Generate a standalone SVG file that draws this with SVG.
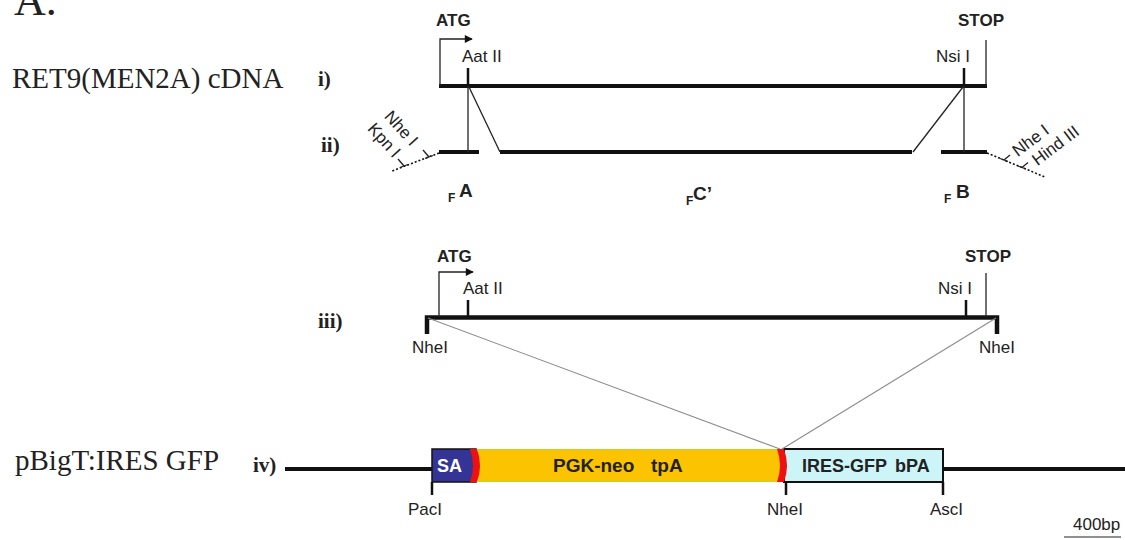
<svg xmlns="http://www.w3.org/2000/svg" width="1125" height="540" viewBox="0 0 1125 540">
  <defs>
    <marker id="arrow" viewBox="0 0 10 10" refX="9" refY="5" markerWidth="9" markerHeight="8" markerUnits="userSpaceOnUse" orient="auto">
      <path d="M0,0 L10,5 L0,10 Z" fill="#111"/>
    </marker>
    <style>
      .title { font-family: "Liberation Serif", "Times New Roman", serif; font-size: 29px; fill: #222; }
      .roman { font-family: "Liberation Serif", "Times New Roman", serif; font-size: 21px; font-weight: bold; fill: #222; }
      .lbl { font-family: "Liberation Sans", Arial, sans-serif; font-size: 17px; fill: #222; }
      .blbl { font-family: "Liberation Sans", Arial, sans-serif; font-size: 17px; font-weight: bold; fill: #222; }
      .frag { font-family: "Liberation Sans", Arial, sans-serif; font-size: 19px; font-weight: bold; fill: #222; }
      .sub { font-family: "Liberation Sans", Arial, sans-serif; font-size: 12px; font-weight: bold; fill: #222; }
      .box { font-family: "Liberation Sans", Arial, sans-serif; font-weight: bold; }
      .dna { stroke: #111; stroke-width: 4; fill: none; }
      .dna5 { stroke: #111; stroke-width: 4.5; fill: none; }
      .site { stroke: #111; stroke-width: 2.5; fill: none; }
      .thin { stroke: #222; stroke-width: 1.3; fill: none; }
      .dots { stroke: #111; stroke-width: 1.6; stroke-dasharray: 2 2; fill: none; }
      .guide { stroke: #8c8c8c; stroke-width: 1.1; fill: none; }
    </style>
  </defs>
  <rect width="1125" height="540" fill="#fff"/>

  <!-- panel letter and construct names -->
  <text x="14" y="15" style="font-family:'Liberation Serif','Times New Roman',serif;font-size:44px;fill:#222">A.</text>
  <text class="title" x="12" y="88">RET9(MEN2A) cDNA</text>
  <text class="title" x="15" y="470">pBigT:IRES GFP</text>

  <!-- i) full-length cDNA -->
  <g id="row-i">
    <text class="roman" x="318" y="86">i)</text>
    <line class="dna" x1="439" y1="86" x2="987" y2="86"/>
    <polyline class="thin" points="440,86 440,39 472,39" marker-end="url(#arrow)"/>
    <text class="blbl" x="436" y="26">ATG</text>
    <line class="site" x1="468" y1="68" x2="468" y2="86"/>
    <text class="lbl" x="462" y="62">Aat II</text>
    <line class="site" x1="964" y1="68" x2="964" y2="86"/>
    <text class="lbl" x="936" y="62">Nsi I</text>
    <line class="thin" x1="986" y1="40" x2="986" y2="86"/>
    <text class="blbl" x="958" y="26">STOP</text>
  </g>

  <!-- ii) PCR fragments A, C' and B -->
  <g id="row-ii">
    <text class="roman" x="321" y="152">ii)</text>
    <line class="dna" x1="439" y1="152" x2="479" y2="152"/>
    <line class="dna" x1="500" y1="152" x2="912" y2="152"/>
    <line class="dna" x1="941" y1="152" x2="987" y2="152"/>
    <!-- flanking primer tails with added sites -->
    <line class="dots" x1="439" y1="153" x2="392" y2="171"/>
    <line class="dots" x1="987" y1="153" x2="1045" y2="177"/>
    <polyline class="thin" points="423,150 429,157"/>
    <line class="thin" x1="425" y1="158.5" x2="433" y2="155.5"/>
    <polyline class="thin" points="398,159 404,166"/>
    <line class="thin" x1="400" y1="167.5" x2="408" y2="164.5"/>
    <text class="lbl" transform="translate(397,132) rotate(48)" text-anchor="middle">Nhe I</text>
    <text class="lbl" transform="translate(380,144) rotate(48)" text-anchor="middle">Kpn I</text>
    <polyline class="thin" points="1004,160 1010,155"/>
    <line class="thin" x1="1000" y1="158.5" x2="1008" y2="161.5"/>
    <polyline class="thin" points="1022,167.5 1028,162.5"/>
    <line class="thin" x1="1018" y1="166" x2="1026" y2="169"/>
    <text class="lbl" transform="translate(1034,145) rotate(-37)" text-anchor="middle">Nhe I</text>
    <text class="lbl" transform="translate(1059,150) rotate(-37)" text-anchor="middle">Hind III</text>
    <!-- fragment names -->
    <text class="sub" x="448" y="202">F</text>
    <text class="frag" x="459" y="197">A</text>
    <text class="sub" x="686" y="205">F</text>
    <text class="frag" x="693" y="200">C’</text>
    <text class="sub" x="944" y="203">F</text>
    <text class="frag" x="956" y="198">B</text>
  </g>

  <!-- iii) reassembled insert -->
  <g id="row-iii">
    <text class="roman" x="318" y="328">iii)</text>
    <polyline class="dna5" points="427,334 427,317.5 997,317.5 997,334"/>
    <polyline class="thin" points="439,317 439,272 473,272" marker-end="url(#arrow)"/>
    <text class="blbl" x="437" y="262">ATG</text>
    <line class="site" x1="468" y1="300" x2="468" y2="317"/>
    <text class="lbl" x="463" y="294">Aat II</text>
    <line class="site" x1="966" y1="300" x2="966" y2="317"/>
    <text class="lbl" x="938" y="294">Nsi I</text>
    <line class="thin" x1="986" y1="273" x2="986" y2="317"/>
    <text class="blbl" x="965" y="262">STOP</text>
    <text class="lbl" x="412" y="353">NheI</text>
    <text class="lbl" x="979" y="353">NheI</text>
  </g>

  <!-- iv) pBigT:IRES GFP vector -->
  <g id="row-iv">
    <text class="roman" x="253" y="472">iv)</text>
    <line class="dna" x1="285" y1="469" x2="1125" y2="469"/>
    <rect x="432" y="449" width="44" height="33" fill="#343496" stroke="#111" stroke-width="1.5"/>
    <text class="box" x="437" y="472" font-size="18" fill="#fff">SA</text>
    <rect x="478" y="449.5" width="304" height="32" fill="#fcc300" stroke="#c3d23c" stroke-width="1.2"/>
    <text class="box" font-size="19" fill="#222" y="472"><tspan x="553">PGK-neo</tspan><tspan x="651">tpA</tspan></text>
    <rect x="784" y="449" width="159" height="33" fill="#cdf5f8" stroke="#111" stroke-width="2"/>
    <text class="box" font-size="18" fill="#222" y="472"><tspan x="802">IRES-GFP</tspan><tspan x="895">bPA</tspan></text>
    <path d="M470,449 L477,449 Q483,465.5 477,482 L470,482 Q476,465.5 470,449 Z" fill="#ee1111"/>
    <path d="M777,449 L784,449 Q790,465.5 784,482 L777,482 Q783,465.5 777,449 Z" fill="#ee1111"/>
    <line class="site" x1="432" y1="482" x2="432" y2="495"/>
    <line class="site" x1="786" y1="482" x2="786" y2="495"/>
    <line class="site" x1="943" y1="482" x2="943" y2="495"/>
    <text class="lbl" x="408" y="515">PacI</text>
    <text class="lbl" x="767" y="515">NheI</text>
    <text class="lbl" x="930" y="515">AscI</text>
  </g>

  <!-- scale bar -->
  <g id="scale">
    <text class="lbl" x="1073" y="530">400bp</text>
    <line x1="1064" y1="537" x2="1121" y2="537" stroke="#222" stroke-width="1.2"/>
  </g>

  <!-- connectors: fragment boundaries and insert placement -->
  <g id="connectors">
    <line class="thin" x1="468" y1="86" x2="468" y2="152"/>
    <line class="thin" x1="469" y1="87" x2="500" y2="152"/>
    <line class="thin" x1="964" y1="86" x2="964" y2="152"/>
    <line class="thin" x1="963" y1="87" x2="913" y2="152"/>
    <line class="guide" x1="428" y1="318" x2="780" y2="449"/>
    <line class="guide" x1="996" y1="318" x2="782" y2="449"/>
  </g>
</svg>
